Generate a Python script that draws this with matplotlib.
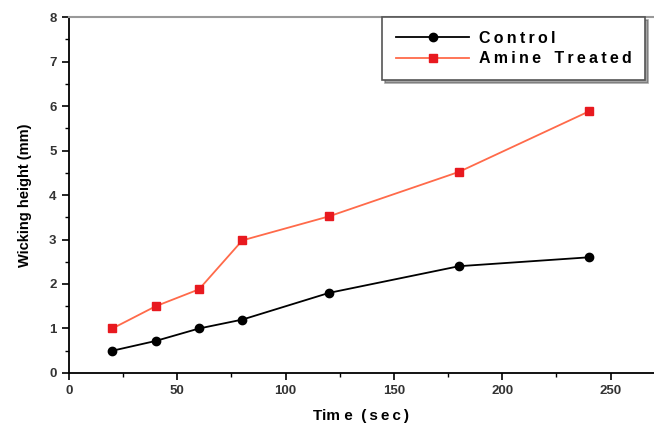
import numpy as np
import matplotlib.pyplot as plt
from matplotlib.ticker import MultipleLocator

plt.rcParams['font.family'] = ['Liberation Sans', 'DejaVu Sans']

time_sec = [20, 40, 60, 80, 120, 180, 240]
control = [0.5, 0.72, 1.0, 1.2, 1.8, 2.4, 2.6]
amine = [1.0, 1.5, 1.88, 2.98, 3.52, 4.52, 5.88]

ts = '\u2009'

fig = plt.figure(figsize=(6.54, 4.32), dpi=100)
ax = fig.add_axes([0.1055, 0.1366, 0.8945, 0.824])

ax.plot(time_sec, control, color='black', lw=1.3, marker='o', ms=6,
        label=ts.join('Control'))
ax.plot(time_sec, amine, color='#ff6a4a', lw=1.3, marker='s', ms=6,
        markerfacecolor='#e8191f', markeredgecolor='#e8191f',
        label=ts.join('Amine') + '   ' + ts.join('Treated'))

ax.set_xlim(0, 270)
ax.set_ylim(0, 8)
ax.xaxis.set_major_locator(MultipleLocator(50))
ax.xaxis.set_minor_locator(MultipleLocator(25))
ax.yaxis.set_major_locator(MultipleLocator(1))
ax.yaxis.set_minor_locator(MultipleLocator(0.5))
ax.tick_params(which='major', direction='out', length=5, width=1.2,
               labelsize=9.5, pad=4)
ax.tick_params(which='minor', direction='out', length=3, width=1.0)
for lab in ax.get_xticklabels() + ax.get_yticklabels():
    lab.set_fontweight('bold')
    lab.set_color('#333333')

ax.spines['right'].set_visible(False)
ax.spines['top'].set_color('#999999')
ax.spines['top'].set_linewidth(1.5)
ax.spines['left'].set_linewidth(1.3)
ax.spines['bottom'].set_linewidth(1.3)

ax.set_xlabel('Tim e  ' + ts.join('(sec)'), fontsize=11, fontweight='bold',
              labelpad=8)
ax.set_ylabel('Wicking height (mm)', fontsize=10.5, fontweight='bold',
              labelpad=12)

leg = ax.legend(loc='upper right', bbox_to_anchor=(0.985, 1.0),
                borderaxespad=0, prop={'weight': 'bold', 'size': 11.5},
                fancybox=False, shadow=True, framealpha=1, borderpad=0.85,
                handlelength=4.6, handletextpad=0.6, labelspacing=0.35,
                edgecolor='#555555')
leg.get_frame().set_linewidth(1.2)

fig.savefig('out.png', dpi=100)
